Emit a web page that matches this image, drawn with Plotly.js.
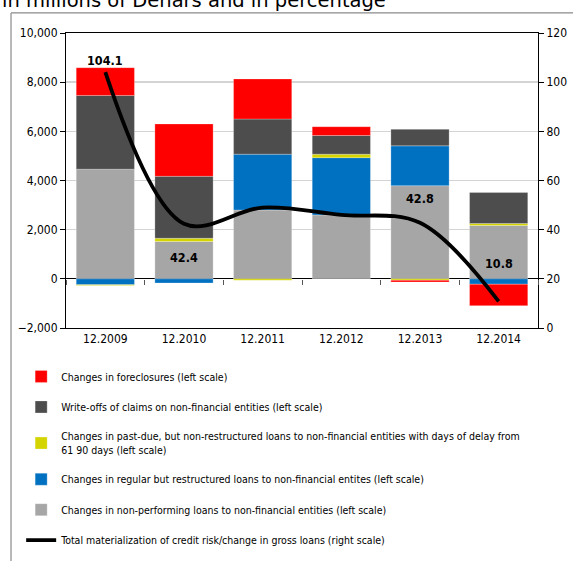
<!DOCTYPE html>
<html>
<head>
<meta charset="utf-8">
<script src="https://cdn.plot.ly/plotly-3.0.1.min.js"></script>
<style>html,body{margin:0;padding:0;background:#fff;}#chart{width:573px;height:561px;}</style>
</head>
<body>
<div id="chart"></div>
<script>
const categories = ["12.2009", "12.2010", "12.2011", "12.2012", "12.2013", "12.2014"];
const nonPerforming = [4460, 1520, 2800, 2600, 3790, 2170];
const restructured = [-240, -170, 2270, 2330, 1620, -220];
const pastDue = [-30, 130, -60, 140, -60, 80];
const writeOffs = [3000, 2520, 1430, 760, 670, 1260];
const foreclosures = [1130, 2130, 1630, 360, -70, -870];
const totalMaterialization = [104.1, 42.4, 49.0, 46.0, 42.8, 10.8];
const lineLabels = ["104.1", "42.4", "", "", "42.8", "10.8"];
const labelShift = [12, -34, 0, 0, 24, 38];

const names = [
  "Changes in foreclosures (left scale)",
  "Write-offs of claims on non-financial entities (left scale)",
  "Changes in past-due, but non-restructured loans to non-financial entities with days of delay from<br>61 90 days (left scale)",
  "Changes in regular but restructured loans to non-financial entites (left scale)",
  "Changes in non-performing loans to non-financial entities (left scale)",
  "Total materialization of credit risk/change in gross loans (right scale)"
];

const FONT = "DejaVu Sans Condensed, DejaVu Sans, sans-serif";

function bar(name, y, color, rank) {
  return {type: "bar", name: name, x: categories, y: y, xaxis: "x", yaxis: "y",
    marker: {color: color, line: {color: "rgba(255,255,255,0.5)", width: 0.5}},
    legendgroup: "g" + rank, legendrank: rank, hoverinfo: "skip"};
}

const data = [
  bar(names[4], nonPerforming, "#a6a6a6", 5),
  bar(names[3], restructured, "#0070c0", 4),
  bar(names[2], pastDue, "#d4d400", 3),
  bar(names[1], writeOffs, "#4d4d4d", 2),
  bar(names[0], foreclosures, "#ff0000", 1),
  {type: "scatter", mode: "none", x: categories, y: categories.map(() => 0), xaxis: "x2", yaxis: "y",
   showlegend: false, hoverinfo: "skip"},
  {type: "scatter", mode: "lines", name: names[5], x: categories, y: totalMaterialization,
   xaxis: "x", yaxis: "y2", line: {color: "#000", width: 3.8, shape: "spline", smoothing: 1},
   legendgroup: "g6", legendrank: 6, hoverinfo: "skip"}
];

const annotations = [];
categories.forEach((c, i) => {
  if (lineLabels[i] !== "") {
    annotations.push({x: i, y: totalMaterialization[i], xref: "x", yref: "y2",
      text: "<b>" + lineLabels[i] + "</b>", showarrow: false, yshift: labelShift[i],
      font: {family: FONT, size: 12.5, color: "#000"}});
  }
});
annotations.push({text: "in millions of Denars and in percentage", xref: "paper", yref: "paper",
  x: -0.1398, y: 1.1085, xanchor: "left", yanchor: "middle", showarrow: false,
  font: {family: "DejaVu Sans, sans-serif", size: 19.5, color: "#000"}});

const layout = {
  width: 573, height: 561,
  margin: {l: 66, r: 35, t: 33, b: 233, autoexpand: false},
  paper_bgcolor: "#fff", plot_bgcolor: "#fff",
  font: {family: FONT, size: 12, color: "#000"},
  barmode: "relative", bargap: 0.26,
  showlegend: true,
  legend: {x: -0.095, y: -0.115, xanchor: "left", yanchor: "top", traceorder: "grouped",
           tracegroupgap: 11.5, font: {family: FONT, size: 10.5, color: "#000"}, bgcolor: "rgba(0,0,0,0)"},
  xaxis: {type: "category", range: [-0.5, 5.5], showline: true, mirror: true, linecolor: "#000", linewidth: 1,
          ticks: "", showgrid: false, tickfont: {family: FONT, size: 12}, fixedrange: true},
  xaxis2: {type: "category", overlaying: "x", anchor: "free", position: 2000 / 12000, range: [-0.5, 5.5],
           showticklabels: false, ticks: "outside", tickson: "boundaries", ticklen: 5, tickcolor: "#555",
           showline: false, showgrid: false},
  yaxis: {range: [-2000, 10000], dtick: 2000, tickformat: ",d", showline: true, linecolor: "#000", linewidth: 1,
          ticks: "outside", ticklen: 5, tickcolor: "#000", showgrid: true, gridcolor: "#d4d4d4", gridwidth: 1.5,
          zeroline: true, zerolinecolor: "#000", zerolinewidth: 1, tickfont: {family: FONT, size: 12}},
  yaxis2: {range: [0, 120], dtick: 20, overlaying: "y", side: "right", showline: true, linecolor: "#000",
           ticks: "outside", ticklen: 5, tickcolor: "#000", showgrid: false, zeroline: false,
           tickfont: {family: FONT, size: 12}},
  annotations: annotations,
  shapes: [
    {type: "line", xref: "paper", yref: "paper", x0: -0.1165, x1: 1.1, y0: 1.068, y1: 1.068, line: {color: "#8a8a8a", width: 1.2}},
    {type: "line", xref: "paper", yref: "paper", x0: -0.1165, x1: -0.1165, y0: 1.068, y1: -0.8, line: {color: "#8a8a8a", width: 1.2}}
  ]
};

Plotly.newPlot("chart", data, layout, {displayModeBar: false, staticPlot: true});
</script>
</body>
</html>
